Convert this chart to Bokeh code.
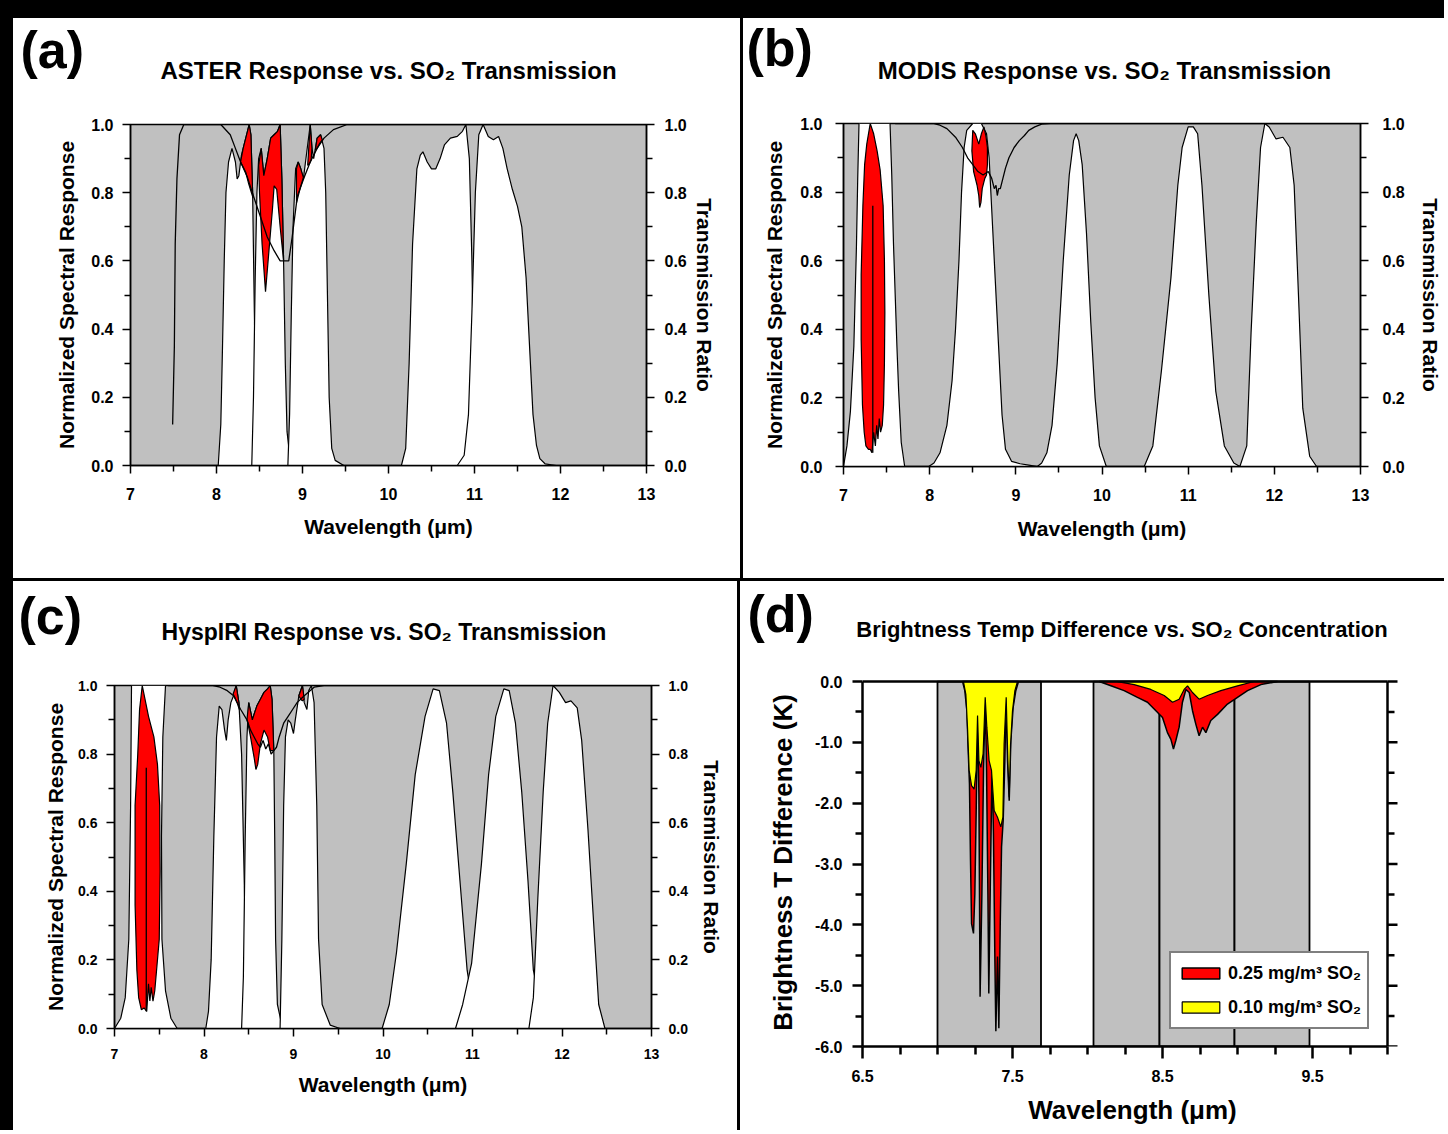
from bokeh.plotting import figure
from bokeh.layouts import row, column
from bokeh.models import (Div, LinearAxis, FixedTicker, PrintfTickFormatter,
                          Range1d, Legend, LegendItem)
from bokeh.core.properties import value
from bokeh.embed import file_html
from bokeh.resources import INLINE

FONT = "Liberation Sans"
GRAY = "#c0c0c0"
RED = "#ff0000"
YELLOW = "#ffff00"

# ---------------- tick definitions ----------------
RESP_X_TICKS = [7, 8, 9, 10, 11, 12, 13]
RESP_X_MINOR = [7.5, 8.5, 9.5, 10.5, 11.5, 12.5]
RESP_Y_TICKS = [0.0, 0.2, 0.4, 0.6, 0.8, 1.0]
RESP_Y_MINOR = [0.1, 0.3, 0.5, 0.7, 0.9]
D_X_TICKS = [6.5, 7.5, 8.5, 9.5]
D_X_MINOR = [6.75, 7.0, 7.25, 7.75, 8.0, 8.25, 8.75, 9.0, 9.25, 9.75, 10.0]
D_Y_TICKS = [0.0, -1.0, -2.0, -3.0, -4.0, -5.0, -6.0]
D_Y_MINOR = [-0.5, -1.5, -2.5, -3.5, -4.5, -5.5]
D_XMIN, D_XMAX, D_YMIN, D_YMAX = 6.5, 10.0, -6.0, 0.0

# ---------------- (a) ASTER ----------------
a_b10_x = [8.02, 8.05, 8.07, 8.09, 8.11, 8.14, 8.18, 8.22, 8.24, 8.26, 8.29, 8.33, 8.36, 8.38, 8.40, 8.42, 8.44, 8.46, 8.49, 8.55, 8.65]
a_b10_y = [0.0, 0.12, 0.35, 0.6, 0.8, 0.89, 0.93, 0.89, 0.84, 0.85, 0.91, 0.95, 0.98, 1.0, 0.97, 0.8, 0.45, 0.15, 0.05, 0.01, 0.0]
a_b11_x = [8.41, 8.43, 8.45, 8.47, 8.49, 8.52, 8.55, 8.59, 8.63, 8.67, 8.71, 8.74, 8.76, 8.78, 8.80, 8.82, 8.85, 8.9, 9.0]
a_b11_y = [0.0, 0.2, 0.55, 0.8, 0.9, 0.93, 0.85, 0.9, 0.96, 0.97, 0.98, 1.0, 0.84, 0.6, 0.3, 0.1, 0.03, 0.01, 0.0]
a_b12_x = [8.83, 8.85, 8.87, 8.89, 8.92, 8.95, 8.98, 9.01, 9.05, 9.09, 9.11, 9.13, 9.17, 9.21, 9.25, 9.27, 9.29, 9.31, 9.34, 9.38, 9.48]
a_b12_y = [0.0, 0.15, 0.45, 0.7, 0.87, 0.89, 0.87, 0.84, 0.92, 1.0, 0.93, 0.9, 0.96, 0.97, 0.93, 0.8, 0.5, 0.2, 0.05, 0.015, 0.0]
a_b13_x = [10.15, 10.2, 10.24, 10.28, 10.33, 10.37, 10.40, 10.45, 10.5, 10.55, 10.6, 10.65, 10.72, 10.8, 10.86, 10.9, 10.94, 10.97, 10.99, 11.02, 11.08, 11.2]
a_b13_y = [0.0, 0.05, 0.3, 0.65, 0.87, 0.91, 0.92, 0.89, 0.87, 0.87, 0.9, 0.94, 0.96, 0.965, 0.98, 1.0, 0.9, 0.6, 0.25, 0.06, 0.01, 0.0]
a_b14_x = [10.80, 10.88, 10.93, 10.97, 11.01, 11.05, 11.1, 11.16, 11.22, 11.28, 11.33, 11.38, 11.44, 11.5, 11.55, 11.6, 11.64, 11.68, 11.72, 11.76, 11.82, 11.95]
a_b14_y = [0.0, 0.03, 0.15, 0.45, 0.8, 0.97, 1.0, 0.965, 0.955, 0.965, 0.93, 0.87, 0.81, 0.76, 0.7, 0.55, 0.35, 0.15, 0.06, 0.02, 0.005, 0.0]
a_red1_x = [8.28, 8.31, 8.34, 8.36, 8.38, 8.40, 8.42, 8.425, 8.40, 8.37, 8.34, 8.31]
a_red1_y = [0.89, 0.93, 0.96, 0.98, 1.0, 0.97, 0.80, 0.785, 0.805, 0.83, 0.86, 0.875]
a_red2_x = [8.49, 8.52, 8.55, 8.59, 8.63, 8.67, 8.71, 8.74, 8.76, 8.78, 8.74, 8.70, 8.67, 8.65, 8.61, 8.57, 8.53, 8.50]
a_red2_y = [0.88, 0.93, 0.85, 0.9, 0.96, 0.97, 0.98, 1.0, 0.84, 0.6, 0.70, 0.81, 0.82, 0.75, 0.63, 0.51, 0.65, 0.8]
a_red3_x = [8.93, 8.95, 8.98, 9.01, 8.97, 8.93]
a_red3_y = [0.87, 0.89, 0.87, 0.845, 0.81, 0.77]
a_red4_x = [9.06, 9.09, 9.11, 9.10, 9.08]
a_red4_y = [0.88, 1.0, 0.93, 0.895, 0.885]
a_red5_x = [9.15, 9.17, 9.21, 9.23, 9.20, 9.17]
a_red5_y = [0.925, 0.96, 0.97, 0.955, 0.945, 0.93]
a_trans_x = [7.49, 7.51, 7.52, 7.54, 7.57, 7.62, 8.05, 8.16, 8.22, 8.28, 8.36, 8.43, 8.51, 8.59, 8.67, 8.74, 8.79, 8.84, 8.88, 8.94, 9.02, 9.09, 9.17, 9.25, 9.36, 9.52, 13.0]
a_trans_y = [0.12, 0.35, 0.65, 0.84, 0.97, 1.0, 1.0, 0.97, 0.93, 0.89, 0.845, 0.79, 0.73, 0.67, 0.63, 0.60, 0.60, 0.60, 0.67, 0.79, 0.845, 0.89, 0.93, 0.96, 0.985, 1.0, 1.0]

# ---------------- (b) MODIS ----------------
b_b28_x = [7.0, 7.04, 7.08, 7.12, 7.15, 7.165, 7.18, 7.54, 7.56, 7.58, 7.60, 7.62, 7.64, 7.67, 7.71]
b_b28_y = [0.0, 0.06, 0.16, 0.35, 0.64, 0.84, 1.0, 1.0, 0.85, 0.65, 0.5, 0.35, 0.22, 0.07, 0.0]
b_red28_x = [7.31, 7.35, 7.39, 7.425, 7.46, 7.475, 7.48, 7.475, 7.465, 7.45, 7.43, 7.415, 7.40, 7.385, 7.37, 7.35, 7.33, 7.31, 7.29, 7.26, 7.24, 7.22, 7.205, 7.205, 7.225, 7.245, 7.27]
b_red28_y = [1.0, 0.97, 0.92, 0.865, 0.76, 0.6, 0.45, 0.3, 0.18, 0.12, 0.1, 0.14, 0.08, 0.12, 0.06, 0.1, 0.04, 0.05, 0.05, 0.06, 0.1, 0.18, 0.37, 0.56, 0.76, 0.88, 0.94]
b_spike_x = [7.34, 7.34]
b_spike_y = [0.76, 0.04]
b_b29_x = [7.99, 8.05, 8.12, 8.2, 8.26, 8.3, 8.34, 8.37, 8.40, 8.43, 8.5, 8.6, 8.66, 8.69, 8.72, 8.76, 8.8, 8.84, 8.88, 8.95, 9.05, 9.15, 9.25]
b_b29_y = [0.0, 0.01, 0.04, 0.12, 0.25, 0.4, 0.6, 0.8, 0.93, 0.98, 1.0, 1.0, 0.97, 0.9, 0.75, 0.55, 0.35, 0.15, 0.05, 0.015, 0.008, 0.004, 0.0]
b_red29_x = [8.49, 8.5, 8.53, 8.57, 8.6, 8.63, 8.655, 8.67, 8.67, 8.66, 8.64, 8.61, 8.595, 8.58, 8.57, 8.55, 8.53, 8.51]
b_red29_y = [0.92, 0.98, 0.97, 0.94, 0.97, 0.99, 0.96, 0.93, 0.88, 0.85, 0.84, 0.81, 0.77, 0.755, 0.79, 0.82, 0.84, 0.86]
b_b30_x = [9.25, 9.3, 9.36, 9.42, 9.48, 9.55, 9.62, 9.67, 9.70, 9.73, 9.77, 9.82, 9.87, 9.92, 9.97, 10.05]
b_b30_y = [0.0, 0.01, 0.04, 0.12, 0.3, 0.6, 0.85, 0.95, 0.97, 0.95, 0.88, 0.68, 0.42, 0.2, 0.06, 0.0]
b_b31_x = [10.49, 10.59, 10.69, 10.8, 10.88, 10.93, 11.0, 11.06, 11.11, 11.16, 11.24, 11.32, 11.42, 11.53, 11.6]
b_b31_y = [0.0, 0.06, 0.28, 0.55, 0.82, 0.93, 0.99, 0.99, 0.97, 0.82, 0.5, 0.22, 0.06, 0.01, 0.0]
b_b32_x = [11.6, 11.68, 11.73, 11.79, 11.84, 11.89, 11.94, 12.02, 12.1, 12.18, 12.23, 12.28, 12.33, 12.41, 12.49]
b_b32_y = [0.0, 0.06, 0.39, 0.71, 0.93, 1.0, 0.99, 0.955, 0.96, 0.93, 0.82, 0.5, 0.17, 0.03, 0.0]
b_trans_x = [7.6, 8.05, 8.12, 8.2, 8.3, 8.38, 8.44, 8.5, 8.56, 8.62, 8.68, 8.72, 8.75, 8.77, 8.785, 8.8, 8.82, 8.85, 8.88, 8.92, 8.98, 9.04, 9.1, 9.15, 9.22, 9.3, 9.4, 13.0]
b_trans_y = [1.0, 1.0, 0.995, 0.985, 0.96, 0.93, 0.9, 0.88, 0.86, 0.85, 0.86, 0.84, 0.81, 0.82, 0.79, 0.81, 0.81, 0.84, 0.87, 0.9, 0.93, 0.95, 0.965, 0.98, 0.99, 0.998, 1.0, 1.0]

# ---------------- (c) HyspIRI ----------------
c_b1_x = [7.0, 7.07, 7.12, 7.16, 7.18, 7.19, 7.57, 7.54, 7.525, 7.53, 7.57, 7.63, 7.70]
c_b1_y = [0.0, 0.03, 0.09, 0.26, 0.65, 1.0, 1.0, 0.85, 0.56, 0.26, 0.11, 0.03, 0.0]
c_red1_x = [7.31, 7.38, 7.44, 7.48, 7.505, 7.51, 7.50, 7.47, 7.45, 7.43, 7.41, 7.395, 7.38, 7.36, 7.33, 7.30, 7.27, 7.25, 7.23, 7.23, 7.26, 7.28]
c_red1_y = [1.0, 0.91, 0.85, 0.77, 0.65, 0.46, 0.26, 0.17, 0.11, 0.08, 0.12, 0.08, 0.13, 0.05, 0.06, 0.055, 0.09, 0.17, 0.36, 0.65, 0.8, 0.93]
c_spike_x = [7.355, 7.355]
c_spike_y = [0.76, 0.05]
c_b2_x = [8.02, 8.05, 8.08, 8.11, 8.14, 8.17, 8.20, 8.23, 8.25, 8.27, 8.30, 8.33, 8.36, 8.39, 8.42, 8.44, 8.46, 8.48, 8.5, 8.55, 8.62]
c_b2_y = [0.0, 0.05, 0.2, 0.56, 0.85, 0.94, 0.93, 0.87, 0.84, 0.9, 0.95, 0.97, 1.0, 0.95, 0.8, 0.55, 0.3, 0.12, 0.03, 0.01, 0.0]
c_b3_x = [8.42, 8.44, 8.46, 8.48, 8.5, 8.54, 8.59, 8.63, 8.67, 8.71, 8.74, 8.76, 8.78, 8.79, 8.80, 8.82, 8.87, 8.93]
c_b3_y = [0.0, 0.15, 0.55, 0.85, 0.95, 0.9, 0.94, 0.96, 0.98, 0.99, 1.0, 0.96, 0.81, 0.56, 0.26, 0.07, 0.01, 0.0]
c_b4_x = [8.85, 8.87, 8.89, 8.91, 8.94, 8.97, 9.0, 9.02, 9.06, 9.1, 9.12, 9.15, 9.17, 9.2, 9.23, 9.26, 9.28, 9.32, 9.41, 9.52]
c_b4_y = [0.0, 0.26, 0.65, 0.85, 0.9, 0.89, 0.86, 0.9, 0.97, 1.0, 0.95, 0.93, 0.985, 1.0, 0.95, 0.65, 0.26, 0.07, 0.01, 0.0]
c_b5_x = [9.99, 10.07, 10.15, 10.26, 10.36, 10.47, 10.56, 10.63, 10.71, 10.78, 10.86, 10.94, 11.0, 11.05, 11.1]
c_b5_y = [0.0, 0.07, 0.22, 0.48, 0.74, 0.91, 0.99, 0.985, 0.89, 0.69, 0.43, 0.17, 0.07, 0.02, 0.0]
c_b6_x = [10.81, 10.89, 10.99, 11.10, 11.18, 11.26, 11.35, 11.41, 11.48, 11.55, 11.62, 11.68, 11.76, 11.84, 11.89]
c_b6_y = [0.0, 0.07, 0.19, 0.48, 0.74, 0.91, 0.99, 0.985, 0.89, 0.69, 0.43, 0.17, 0.07, 0.01, 0.0]
c_b7_x = [11.63, 11.68, 11.73, 11.79, 11.84, 11.9, 11.97, 12.04, 12.1, 12.17, 12.22, 12.29, 12.36, 12.41, 12.48]
c_b7_y = [0.0, 0.09, 0.38, 0.69, 0.89, 1.0, 0.98, 0.95, 0.955, 0.935, 0.84, 0.58, 0.28, 0.07, 0.0]
c_red2_x = [8.325, 8.36, 8.39, 8.395, 8.37, 8.345]
c_red2_y = [0.975, 1.0, 0.95, 0.93, 0.95, 0.965]
c_red3_x = [8.48, 8.5, 8.54, 8.59, 8.63, 8.67, 8.71, 8.74, 8.76, 8.78, 8.77, 8.74, 8.71, 8.67, 8.63, 8.60, 8.58, 8.56, 8.52, 8.49]
c_red3_y = [0.9, 0.95, 0.9, 0.94, 0.96, 0.98, 0.99, 1.0, 0.96, 0.81, 0.81, 0.81, 0.85, 0.87, 0.83, 0.77, 0.755, 0.79, 0.85, 0.89]
c_red4_x = [9.06, 9.1, 9.12, 9.10, 9.08]
c_red4_y = [0.97, 1.0, 0.96, 0.955, 0.96]
c_trans_x = [7.6, 8.1, 8.18, 8.26, 8.33, 8.41, 8.48, 8.52, 8.56, 8.6, 8.63, 8.66, 8.69, 8.72, 8.75, 8.78, 8.81, 8.84, 8.89, 8.94, 8.99, 9.04, 9.12, 9.23, 9.34, 13.0]
c_trans_y = [1.0, 1.0, 0.995, 0.985, 0.97, 0.93, 0.9, 0.87, 0.85, 0.83, 0.82, 0.84, 0.815, 0.83, 0.8, 0.81, 0.82, 0.85, 0.89, 0.91, 0.93, 0.95, 0.97, 0.995, 1.0, 1.0]

# ---------------- (d) brightness temperature difference ----------------
d_band_left = [7.0, 8.04, 8.48, 8.98]
d_band_right = [7.69, 8.48, 8.98, 9.48]
d_hi1_x = [7.167, 7.182, 7.196, 7.204, 7.213, 7.22, 7.227, 7.24, 7.249, 7.258, 7.267, 7.276, 7.284, 7.296, 7.307, 7.318, 7.327, 7.336, 7.342, 7.353, 7.364, 7.373, 7.382, 7.389, 7.4, 7.409, 7.418, 7.427, 7.438, 7.449, 7.458, 7.467, 7.478, 7.489, 7.504, 7.522, 7.54]
d_hi1_y = [0.0, -0.15, -0.48, -1.08, -1.68, -2.94, -3.98, -4.14, -3.49, -2.12, -0.56, -1.85, -5.18, -3.49, -1.41, -0.26, -1.46, -3.49, -5.13, -3.16, -1.36, -2.5, -4.47, -5.75, -4.52, -5.7, -4.03, -2.72, -2.28, -1.3, -0.26, -1.3, -1.96, -0.97, -0.43, -0.15, 0.0]
d_lo1_x = [7.173, 7.189, 7.2, 7.211, 7.227, 7.244, 7.258, 7.267, 7.276, 7.289, 7.304, 7.318, 7.329, 7.344, 7.36, 7.378, 7.4, 7.422, 7.436, 7.444, 7.458, 7.469, 7.478, 7.487, 7.5, 7.516, 7.533]
d_lo1_y = [0.0, -0.21, -0.75, -1.46, -1.71, -1.77, -1.46, -0.56, -1.3, -1.41, -1.19, -0.26, -0.75, -1.3, -1.46, -2.12, -2.23, -2.39, -2.23, -1.03, -0.26, -1.3, -1.9, -1.03, -0.48, -0.15, 0.0]
d_hi2_x = [8.078, 8.156, 8.244, 8.333, 8.4, 8.456, 8.5, 8.533, 8.556, 8.573, 8.589, 8.611, 8.633, 8.656, 8.678, 8.7, 8.722, 8.744, 8.767, 8.789, 8.822, 8.867, 8.933, 9.0, 9.067, 9.156, 9.267]
d_hi2_y = [0.0, -0.07, -0.15, -0.26, -0.34, -0.48, -0.59, -0.84, -0.95, -1.11, -0.97, -0.75, -0.34, -0.13, -0.18, -0.48, -0.7, -0.89, -0.75, -0.84, -0.64, -0.54, -0.37, -0.26, -0.15, -0.05, 0.0]
d_lo2_x = [8.2, 8.311, 8.422, 8.511, 8.567, 8.611, 8.644, 8.667, 8.7, 8.744, 8.8, 8.889, 9.0, 9.111]
d_lo2_y = [0.0, -0.05, -0.13, -0.23, -0.34, -0.29, -0.13, -0.07, -0.18, -0.29, -0.23, -0.15, -0.07, 0.0]


def style_axis(ax, tick_size, label_size, tick_out=8, minor_out=6, standoff=9,
               label_standoff=10, width=1.5):
    ax.axis_line_width = width
    ax.axis_line_color = "black"
    ax.major_tick_line_width = width
    ax.minor_tick_line_width = width
    ax.major_tick_line_color = "black"
    ax.minor_tick_line_color = "black"
    ax.major_tick_in = 0
    ax.major_tick_out = tick_out
    ax.minor_tick_in = 0
    ax.minor_tick_out = minor_out
    ax.major_label_text_font = FONT
    ax.major_label_text_font_style = "bold"
    ax.major_label_text_font_size = tick_size
    ax.major_label_text_color = "black"
    ax.major_label_standoff = standoff
    ax.axis_label_text_font = FONT
    ax.axis_label_text_font_style = "bold"
    ax.axis_label_text_font_size = label_size
    ax.axis_label_text_color = "black"
    ax.axis_label_standoff = label_standoff


def header(W, H, items):
    h = figure(width=W, height=H, x_range=Range1d(0, W), y_range=Range1d(0, H), title=None,
               x_axis_type=None, y_axis_type=None, output_backend="svg", toolbar_location=None,
               min_border=0, margin=0, outline_line_color=None,
               background_fill_color="white", border_fill_color="white")
    for x, y, txt, size, align in items:
        h.text(x=[x], y=[y], text=[txt], text_font=value(FONT), text_font_style="bold",
               text_font_size=value(size), text_align=align, text_baseline="middle",
               text_color="black")
    return h


def response_panel(W, H, bl, br, bt, bb, whites, reds, lines, tick_size, lab_size, st):
    p = figure(width=W, height=H, x_range=Range1d(7, 13), y_range=Range1d(0, 1), title=None,
               output_backend="svg", toolbar_location=None, margin=0,
               min_border_left=bl, min_border_right=br, min_border_top=bt, min_border_bottom=bb,
               background_fill_color=GRAY, border_fill_color="white",
               outline_line_color="black", outline_line_width=1.5)
    p.xgrid.visible = False
    p.ygrid.visible = False
    for xs, ys in whites:
        p.patch(xs, ys, fill_color="white", line_color="black", line_width=1.2)
    for xs, ys in reds:
        p.patch(xs, ys, fill_color=RED, line_color="black", line_width=1.2)
    for xs, ys in lines:
        p.line(xs, ys, line_color="black", line_width=1.3)
    p.xaxis.ticker = FixedTicker(ticks=RESP_X_TICKS, minor_ticks=RESP_X_MINOR)
    p.yaxis.ticker = FixedTicker(ticks=RESP_Y_TICKS, minor_ticks=RESP_Y_MINOR)
    p.yaxis.formatter = PrintfTickFormatter(format="%.1f")
    p.xaxis.axis_label = "Wavelength (μm)"
    p.yaxis.axis_label = "Normalized Spectral Response"
    style_axis(p.xaxis[0], tick_size, lab_size, standoff=st[0], label_standoff=st[1])
    style_axis(p.yaxis[0], tick_size, lab_size, standoff=st[2], label_standoff=st[3])
    rax = LinearAxis(axis_label="Transmission Ratio",
                     ticker=FixedTicker(ticks=RESP_Y_TICKS, minor_ticks=RESP_Y_MINOR),
                     formatter=PrintfTickFormatter(format="%.1f"))
    style_axis(rax, tick_size, lab_size, standoff=st[4], label_standoff=st[5])
    p.add_layout(rax, "right")
    return p


pa = response_panel(
    727, 483, 117, 94, 29, 113,
    [(a_b10_x, a_b10_y), (a_b11_x, a_b11_y), (a_b12_x, a_b12_y), (a_b13_x, a_b13_y), (a_b14_x, a_b14_y)],
    [(a_red1_x, a_red1_y), (a_red2_x, a_red2_y), (a_red3_x, a_red3_y), (a_red4_x, a_red4_y), (a_red5_x, a_red5_y)],
    [(a_trans_x, a_trans_y)],
    "16px", "21px", (14, 12, 9, 10, 10, 3))
ha = header(727, 77, [(7, 45.5, "(a)", "52px", "left"),
                      (375, 25, "ASTER Response vs. SO₂ Transmission", "24px", "center")])

pb = response_panel(
    701, 483, 100, 79, 28, 112,
    [(b_b28_x, b_b28_y), (b_b29_x, b_b29_y), (b_b30_x, b_b30_y), (b_b31_x, b_b31_y), (b_b32_x, b_b32_y)],
    [(b_red28_x, b_red28_y), (b_red29_x, b_red29_y)],
    [(b_trans_x, b_trans_y), (b_spike_x, b_spike_y)],
    "16px", "21px", (14, 13, 13, 11, 14, 11))
hb = header(701, 77, [(3, 48, "(b)", "52px", "left"),
                      (361, 25, "MODIS Response vs. SO₂ Transmission", "24px", "center")])

pc = response_panel(
    724, 474, 101, 86, 29, 102,
    [(c_b1_x, c_b1_y), (c_b2_x, c_b2_y), (c_b3_x, c_b3_y), (c_b4_x, c_b4_y),
     (c_b5_x, c_b5_y), (c_b6_x, c_b6_y), (c_b7_x, c_b7_y)],
    [(c_red1_x, c_red1_y), (c_red2_x, c_red2_y), (c_red3_x, c_red3_y), (c_red4_x, c_red4_y)],
    [(c_trans_x, c_trans_y), (c_spike_x, c_spike_y)],
    "14px", "21px", (12, 11, 9, 8, 9, 9))
hc = header(724, 75, [(5, 41, "(c)", "52px", "left"),
                      (370.5, 25, "HyspIRI Response vs. SO₂ Transmission", "23px", "center")])

# ---------------- panel (d) ----------------
X_PAD = 0.1     # room right of the plotting area for the right-hand tick marks
Y_PAD = 0.05    # room above the plotting area so the top rule is not clipped
pd_ = figure(width=704, height=474, x_range=Range1d(D_XMIN, D_XMAX + X_PAD),
             y_range=Range1d(D_YMIN, D_YMAX + Y_PAD), title=None,
             output_backend="svg", toolbar_location=None, margin=0,
             min_border_left=122, min_border_right=42, min_border_top=22, min_border_bottom=84,
             background_fill_color="white", border_fill_color="white", outline_line_color=None)
pd_.xgrid.visible = False
pd_.ygrid.visible = False
pd_.quad(left=d_band_left, right=d_band_right, top=D_YMAX, bottom=D_YMIN,
         fill_color=GRAY, line_color="black", line_width=1.8)
r_hi = pd_.patch(d_hi1_x, d_hi1_y, fill_color=RED, line_color="black", line_width=1.5)
pd_.patch(d_hi2_x, d_hi2_y, fill_color=RED, line_color="black", line_width=1.5)
r_lo = pd_.patch(d_lo1_x, d_lo1_y, fill_color=YELLOW, line_color="black", line_width=1.2)
pd_.patch(d_lo2_x, d_lo2_y, fill_color=YELLOW, line_color="black", line_width=1.2)

# top rule and right-hand axis (drawn as marks from the axis limits and tick lists)
px_per_x = 150.0
maj_len = 10 / px_per_x
min_len = 7 / px_per_x
pd_.segment(x0=[D_XMIN], y0=[D_YMAX], x1=[D_XMAX], y1=[D_YMAX], line_color="black", line_width=2.5)
pd_.segment(x0=[D_XMAX], y0=[D_YMIN], x1=[D_XMAX], y1=[D_YMAX], line_color="black", line_width=2.5)
pd_.segment(x0=[D_XMAX] * len(D_Y_TICKS), y0=D_Y_TICKS, x1=[D_XMAX + maj_len] * len(D_Y_TICKS),
            y1=D_Y_TICKS, line_color="black", line_width=2.5)
pd_.segment(x0=[D_XMAX] * len(D_Y_MINOR), y0=D_Y_MINOR, x1=[D_XMAX + min_len] * len(D_Y_MINOR),
            y1=D_Y_MINOR, line_color="black", line_width=2.5)

pd_.xaxis.ticker = FixedTicker(ticks=D_X_TICKS, minor_ticks=D_X_MINOR)
pd_.xaxis.formatter = PrintfTickFormatter(format="%.1f")
pd_.xaxis.bounds = (D_XMIN, D_XMAX)
pd_.yaxis.ticker = FixedTicker(ticks=D_Y_TICKS, minor_ticks=D_Y_MINOR)
pd_.yaxis.formatter = PrintfTickFormatter(format="%.1f")
pd_.yaxis.bounds = (D_YMIN, D_YMAX)
pd_.xaxis.axis_label = "Wavelength (μm)"
pd_.yaxis.axis_label = "Brightness T Difference (K)"
style_axis(pd_.xaxis[0], "16px", "26px", tick_out=12, minor_out=8, standoff=11, label_standoff=10, width=2.5)
style_axis(pd_.yaxis[0], "16px", "26px", tick_out=10, minor_out=7, standoff=10, label_standoff=14, width=2.5)

legend = Legend(items=[LegendItem(label="0.25 mg/m³ SO₂", renderers=[r_hi]),
                       LegendItem(label="0.10 mg/m³ SO₂", renderers=[r_lo])],
                location=(307, 17), padding=6, spacing=6, label_height=28,
                glyph_width=47, glyph_height=14, label_standoff=4,
                border_line_color="black", border_line_width=2.5,
                background_fill_color="white", background_fill_alpha=1.0,
                label_text_font=FONT, label_text_font_style="bold",
                label_text_font_size="18px", label_text_color="black")
pd_.add_layout(legend)
hd = header(704, 75, [(7, 43, "(d)", "52px", "left"),
                      (381.5, 27, "Brightness Temp Difference vs. SO₂ Concentration", "22px", "center")])


def black(w, h):
    return Div(text="", width=w, height=h, margin=0, styles={"background-color": "black"})


def panel(head, body):
    # each part wrapped in its own row so the header is not frame-aligned with the body
    return column(row(head, spacing=0), row(body, spacing=0), spacing=0)


layout = column(
    black(1444, 18),
    row(black(13, 560), panel(ha, pa), black(3, 560), panel(hb, pb), spacing=0),
    black(1444, 3),
    row(black(13, 549), panel(hc, pc), black(3, 549), panel(hd, pd_), spacing=0),
    spacing=0,
)

open("out.html", "w").write(file_html(layout, INLINE))
